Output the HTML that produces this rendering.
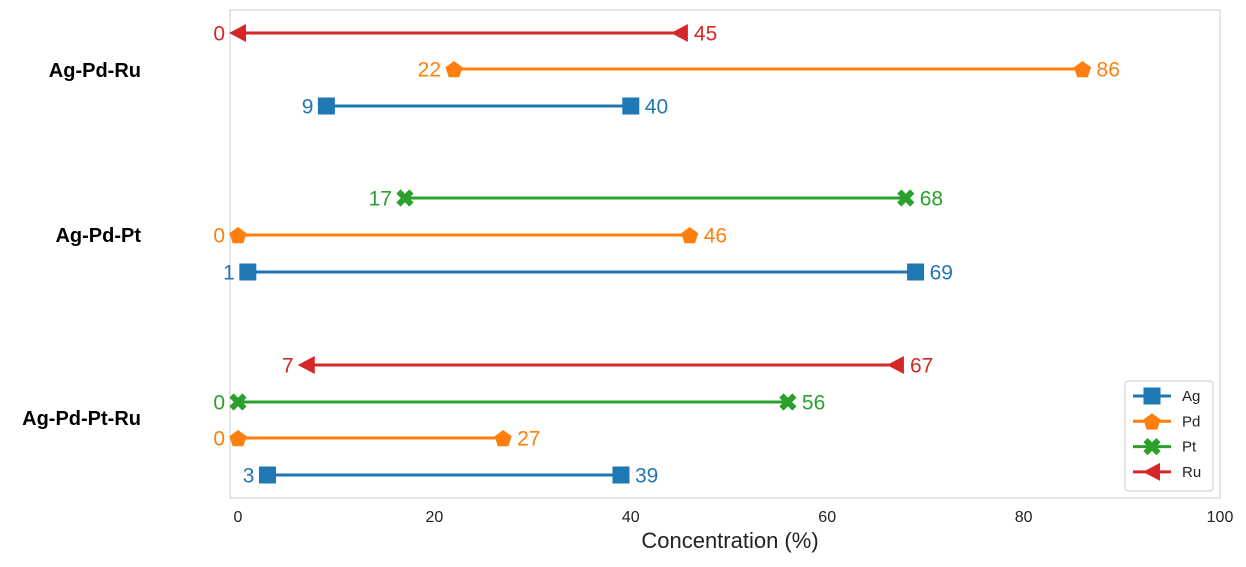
<!DOCTYPE html>
<html><head><meta charset="utf-8"><style>
body{margin:0;background:#fff;font-family:"Liberation Sans",sans-serif}
</style></head><body>
<svg id="chart" width="1246" height="562" xmlns="http://www.w3.org/2000/svg"></svg>
<script>
const groups = ["Ag-Pd-Ru","Ag-Pd-Pt","Ag-Pd-Pt-Ru"];
const rowGroup = [0,0,0,1,1,1,2,2,2,2];
const rowElem = ["Ru","Pd","Ag","Pt","Pd","Ag","Ru","Pt","Pd","Ag"];
const minVals = [0,22,9,17,0,1,7,0,0,3];
const maxVals = [45,86,40,68,46,69,67,56,27,39];
const xTicks = [0,20,40,60,80,100];
const elems = ["Ag","Pd","Pt","Ru"];
const colors = {Ag:"#1f77b4",Pd:"#ff7f0e",Pt:"#2ca02c",Ru:"#d62728"};
const rowY = [33,69,106,198,235,272,365,402,438,475];
const groupY = [70,235,418];

const svg = document.getElementById('chart');
const NS = "http://www.w3.org/2000/svg";
const x = v => 238 + v*9.82;
function mk(tag, attrs, parent){const e=document.createElementNS(NS,tag);for(const k in attrs)e.setAttribute(k,attrs[k]);(parent||svg).appendChild(e);return e;}

const frame = mk('rect',{x:230,y:10,width:990,height:488,fill:'none',stroke:'#ccc','stroke-width':1});



function marker(el, cx, cy, parent){
  const c = colors[el]; let m;
  if(el==="Ag") m = mk('rect',{x:cx-8.5,y:cy-8.5,width:17,height:17,fill:c},parent);
  else if(el==="Pd"){let p=[];for(let i=0;i<5;i++){const a=-Math.PI/2+i*2*Math.PI/5;p.push((cx+9*Math.cos(a)).toFixed(1)+','+(cy+1+9*Math.sin(a)).toFixed(1));}m=mk('polygon',{points:p.join(' '),fill:c},parent);}
  else if(el==="Pt") m = mk('path',{d:`M${cx-6.5} ${cy-6.5}L${cx+6.5} ${cy+6.5}M${cx+6.5} ${cy-6.5}L${cx-6.5} ${cy+6.5}`,stroke:c,'stroke-width':6,'stroke-linecap':'butt'},parent);
  else m = mk('polygon',{points:`${cx-9},${cy} ${cx+8},${cy-9} ${cx+8},${cy+9}`,fill:c},parent);
  return m;
}

for(let i=0;i<rowY.length;i++){
  const el=rowElem[i], c=colors[el], y=rowY[i];
  const g = mk('g',{});
  
  
  mk('line',{x1:x(minVals[i]),x2:x(maxVals[i]),y1:y,y2:y,stroke:c,'stroke-width':3},g);
  marker(el,x(minVals[i]),y,g); marker(el,x(maxVals[i]),y,g);
  const t1=mk('text',{x:x(minVals[i])-13,y:y+7.5,'text-anchor':'end','font-size':21,fill:c},g); t1.textContent=minVals[i];
  const t2=mk('text',{x:x(maxVals[i])+14,y:y+7.5,'font-size':21,fill:c},g); t2.textContent=maxVals[i];
}
groups.forEach((gname,i)=>{
  const t=mk('text',{x:141,y:groupY[i]+7,'text-anchor':'end','font-size':20,'font-weight':'bold',fill:'#000'});
  t.textContent=gname;
  
  
});
xTicks.forEach(v=>{
  const t=mk('text',{x:x(v),y:522,'text-anchor':'middle','font-size':16,fill:'#222'});
  t.textContent=v;
  
  
});
const xt=mk('text',{x:730,y:548,'text-anchor':'middle','font-size':22,fill:'#222'});
xt.textContent="Concentration (%)";



const lg=mk('g',{});


mk('rect',{x:1125,y:381,width:88,height:110,rx:3,fill:'#fff',stroke:'#ccc'},lg);
elems.forEach((el,i)=>{
  const y=396+i*25.3;
  const e=mk('g',{},lg);
  
  
  mk('line',{x1:1133,x2:1171,y1:y,y2:y,stroke:colors[el],'stroke-width':3},e);
  marker(el,1152,y,e);
  const t=mk('text',{x:1182,y:y+5,'font-size':15,fill:'#222'},e); t.textContent=el;
});
</script>
</body></html>
